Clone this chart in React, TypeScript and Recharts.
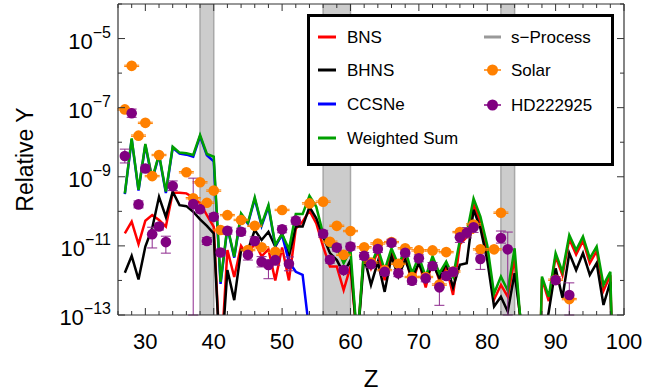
import React from 'react';
import {
  ComposedChart,
  Line,
  Scatter,
  XAxis,
  YAxis,
  ReferenceArea,
  ReferenceLine,
  ErrorBar,
  Legend,
  Label,
} from 'recharts';

// ---------- DATA (log10 of relative abundance Y) ----------
const lineZ = [
  27, 28, 29, 30, 31, 32, 33, 34, 35, 36, 37, 38, 39, 40, 41, 42, 43, 44, 45, 46, 47, 48, 49, 50, 51,
  52, 53, 54, 55, 56, 57, 58, 59, 60, 61, 62, 63, 64, 65, 66, 67, 68, 69, 70, 71, 72, 73, 74, 75, 76,
  77, 78, 79, 80, 81, 82, 83, 84, 85, 86, 87, 88, 89, 90, 91, 92, 93, 94, 95, 96, 97, 98, 99,
];

const bnsLog = [
  -10.64, -10.3, -10.95, -10.27, -10.11, -10.25, -10.44, -9.46, -9.46, -9.48, -9.6, -9.77, -10.11,
  -10.45, -14.5, -11.12, -11.9, -11.0, -11.3, -10.9, -11.3, -11.1, -12.0, -11.05, -12.0, -10.5,
  -10.3, -9.98, -10.35, -11.02, -11.6, -11.6, -12.28, -11.6, -13.8, -11.1, -11.65, -11.15, -11.99,
  -11.15, -11.7, -11.2, -12.13, -11.45, -12.2, -11.4, -12.0, -11.6, -12.42, -10.95, -10.75, -9.8,
  -10.3, -11.15, -12.55, -12.13, -12.47, -11.36, -13.5, -20, -20, -11.95, -12.6, -11.3, -11.85,
  -10.8, -11.25, -10.85, -11.5, -11.15, -12.3, -11.85, -20,
];

const bhnsLog = [
  -11.78, -11.29, -11.97, -11.02, -10.49, -9.58, -10.16, -9.43, -9.82, -9.85, -10.01, -10.23,
  -10.42, -10.64, -14.6, -11.7, -12.57, -11.12, -11.12, -10.54, -10.83, -10.59, -11.02, -10.64,
  -11.31, -10.44, -10.44, -9.87, -10.2, -10.73, -11.21, -11.41, -11.79, -11.41, -13.8, -11.31,
  -12.13, -11.46, -12.33, -11.3, -11.89, -11.4, -11.93, -11.5, -12.0, -11.5, -11.93, -11.5, -12.2,
  -11.55, -11.5, -9.95, -10.49, -11.41, -12.75, -12.47, -12.9, -11.79, -13.3, -20, -20, -14, -12.9,
  -11.65, -12.5, -11.21, -11.7, -11.21, -11.84, -11.5, -12.71, -12.04, -20,
];

const ccsneLog: (number | null)[] = [
  -9.5, -7.92, -9.4, -8.08, -9.08, -8.38, -9.47, -8.16, -8.33, -8.36, -8.42, -7.83, -8.38, -8.55,
  -12.1, -10.47, -11.34, -10.1, -10.36, -9.64, -10.42, -9.86, -11.0, -10.69, -11.46, -11.75, -11.84,
  -13.5, null, null, null, null, null, null, null, null, null, null, null, null, null, null, null,
  null, null, null, null, null, null, null, null, null, null, null, null, null, null, null, null,
  null, null, null, null, null, null, null, null, null, null, null, null, null, null,
];

const weightedLog = [
  -9.48, -7.89, -9.38, -8.05, -9.05, -8.35, -9.43, -8.13, -8.3, -8.32, -8.37, -7.79, -8.34, -8.42,
  -12.04, -10.44, -11.31, -10.06, -10.33, -9.6, -10.38, -9.82, -10.97, -10.66, -11.1, -10.08,
  -10.08, -9.55, -9.87, -10.66, -11.02, -11.02, -11.5, -11.12, -13.8, -11.02, -11.55, -11.07,
  -11.7, -11.07, -11.55, -11.12, -11.79, -11.31, -11.89, -11.3, -11.79, -11.46, -11.89, -10.83,
  -10.64, -9.63, -10.15, -10.98, -12.38, -11.89, -12.29, -11.07, -13.5, -20, -20, -11.89, -12.47,
  -11.21, -11.75, -10.69, -11.12, -10.73, -11.36, -11.02, -12.13, -11.75, -20,
];

const solarZ = [
  27, 28, 29, 30, 31, 32, 36, 37, 38, 39, 40, 41, 42, 44, 45, 46, 47, 49, 50, 54, 56, 57, 58, 59, 60,
  62, 63, 64, 65, 66, 67, 68, 69, 70, 71, 72, 73, 74, 75, 76, 77, 78, 79, 81, 82, 90, 92,
];
const solarLog = [
  -7.05, -5.79, -7.81, -7.44, -8.98, -8.37, -8.87, -9.62, -9.16, -9.75, -9.4, -10.54, -10.11,
  -10.25, -11.12, -10.42, -11.04, -11.17, -9.96, -9.77, -9.72, -10.88, -10.42, -11.26, -10.57,
  -11.04, -11.48, -10.93, -11.7, -10.89, -11.52, -11.07, -11.9, -11.13, -11.9, -11.13, -12.12,
  -11.18, -11.74, -10.6, -10.62, -10.38, -11.1, -11.1, -10.04, -11.98, -12.54,
];
const solarErrDex = 0.02;

const hdZ = [
  27, 28, 29, 30, 31, 32, 33, 34, 37, 38, 39, 40, 41, 42, 44, 45, 46, 47, 48, 49, 50, 51, 52, 56, 57,
  58, 59, 60, 62, 63, 64, 65, 66, 67, 68, 69, 70, 71, 72, 73, 74, 75, 76, 77, 78, 79, 82, 83, 90, 92,
];
const hdLog = [
  -8.4, -7.16, -9.8, -8.76, -10.66, -10.44, -10.89, -9.27, -9.79, -9.94, -10.86, -10.16, -11.19,
  -10.56, -10.59, -11.26, -10.86, -11.46, -11.55, -11.41, -10.52, -11.52, -10.27, -10.65, -11.4,
  -11.05, -11.7, -11.02, -11.29, -11.53, -11.09, -11.75, -10.91, -11.79, -11.2, -12.01, -11.36,
  -11.94, -11.58, -12.2, -11.87, -11.75, -10.75, -10.62, -10.46, -11.38, -10.77, -11.1, -11.99,
  -12.42,
];
const hdErrLo = [
  0.2, 0.12, 0.1, 0.1, 0.4, 0.1, 0.32, 0.13, 3.21, 0.1, 0.1, 0.1, 0.1, 0.1, 0.1, 0.15, 0.12, 0.15,
  0.4, 0.15, 0.1, 0.2, 0.1, 0.1, 0.1, 0.1, 0.1, 0.1, 0.1, 0.1, 0.1, 0.1, 0.1, 0.1, 0.1, 0.1, 0.1,
  0.1, 0.1, 0.52, 0.1, 0.12, 0.15, 0.15, 0.15, 0.3, 0.15, 1.9, 0.1, 0.58,
];
const hdErrHi = [
  0.2, 0.12, 0.1, 0.1, 0.2, 0.1, 0.17, 0.15, 0.75, 0.1, 0.1, 0.1, 0.1, 0.1, 0.1, 0.15, 0.12, 0.15,
  0.15, 0.15, 0.1, 0.2, 0.1, 0.1, 0.1, 0.1, 0.1, 0.1, 0.1, 0.1, 0.1, 0.1, 0.1, 0.1, 0.1, 0.1, 0.1,
  0.1, 0.1, 0.1, 0.1, 0.12, 0.15, 0.15, 0.15, 0.15, 0.2, 0.5, 0.1, 0.35,
];

const sProcessBands = [
  [38, 40],
  [56, 60],
  [82, 84],
];

const xTicks = [
  26, 28, 30, 32, 34, 36, 38, 40, 42, 44, 46, 48, 50, 52, 54, 56, 58, 60, 62, 64, 66, 68, 70, 72, 74,
  76, 78, 80, 82, 84, 86, 88, 90, 92, 94, 96, 98, 100,
];
const yTickExponents = [-13, -12, -11, -10, -9, -8, -7, -6, -5, -4];

// ---------- derived tables ----------
const pow = (e: number) => Math.pow(10, e);
const lineRows = lineZ.map((z, i) => ({
  z,
  bns: pow(bnsLog[i]),
  bhns: pow(bhnsLog[i]),
  ccsne: ccsneLog[i] == null ? null : pow(ccsneLog[i] as number),
  weighted: pow(weightedLog[i]),
}));
const solarRows = solarZ.map((z, i) => {
  const v = pow(solarLog[i]);
  return { z, v, err: [v - v * pow(-solarErrDex), v * pow(solarErrDex) - v] };
});
const hdRows = hdZ.map((z, i) => {
  const v = pow(hdLog[i]);
  return { z, v, err: [v - v * pow(-hdErrLo[i]), v * pow(hdErrHi[i]) - v] };
});
const yTicks = yTickExponents.map(pow);

// ---------- layout / style ----------
const W = 668;
const H = 392;
const MARGIN = { top: 4, right: 44, bottom: 0, left: 0 };
const Y_AXIS_W = 118;
const X_AXIS_H = 77;
const PLOT_W = W - MARGIN.left - MARGIN.right - Y_AXIS_W;
const PLOT_H = H - MARGIN.top - MARGIN.bottom - X_AXIS_H;
const FONT = '"Liberation Sans", Arial, Helvetica, sans-serif';
const FRAME = '#333333';
const C_RED = '#ff0000';
const C_BLACK = '#000000';
const C_BLUE = '#0000ff';
const C_GREEN = '#00a000';
const C_ORANGE = '#ff8000';
const C_PURPLE = '#800080';
const C_BAND = '#cccccc';

const XTick = (props: any) => {
  const { x, y, payload } = props;
  const v = payload.value;
  const major = v % 10 === 0;
  const len = major ? 7 : 4;
  return (
    <g>
      <line x1={x} x2={x} y1={y} y2={y - len} stroke={FRAME} strokeWidth={1} />
      <line x1={x} x2={x} y1={y - PLOT_H} y2={y - PLOT_H + len} stroke={FRAME} strokeWidth={1} />
      {major && (
        <text x={x} y={y + 34} textAnchor="middle" fontSize={22} fontFamily={FONT} fill="#000">
          {v}
        </text>
      )}
    </g>
  );
};

const YTick = (props: any) => {
  const { x, y, payload } = props;
  const e = Math.round(Math.log10(payload.value));
  const labeled = e % 2 !== 0;
  const len = labeled ? 7 : 4;
  return (
    <g>
      <line x1={x} x2={x + len} y1={y} y2={y} stroke={FRAME} strokeWidth={1} />
      <line x1={x + PLOT_W} x2={x + PLOT_W - len} y1={y} y2={y} stroke={FRAME} strokeWidth={1} />
      {labeled && (
        <text x={x - 7} y={y + 10} textAnchor="end" fontFamily={FONT} fill="#000">
          <tspan fontSize={22}>10</tspan>
          <tspan fontSize={16} dy={-11}>
            {'\u2212' + Math.abs(e)}
          </tspan>
        </text>
      )}
    </g>
  );
};

const Dot = (color: string) => (p: any) =>
  p.cx == null || p.cy == null ? <g /> : <circle cx={p.cx} cy={p.cy} r={5.3} fill={color} />;

const LegendBox = () => {
  const rows1 = [
    { name: 'BNS', color: C_RED, y: 23 },
    { name: 'BHNS', color: C_BLACK, y: 56 },
    { name: 'CCSNe', color: C_BLUE, y: 90 },
    { name: 'Weighted Sum', color: C_GREEN, y: 124 },
  ];
  return (
    <svg width={307} height={152} style={{ display: 'block' }}>
      <rect x={1.5} y={1.5} width={304} height={149} fill="#fff" stroke="#000" strokeWidth={3} />
      {rows1.map((r) => (
        <g key={r.name}>
          <line x1={11} x2={29} y1={r.y} y2={r.y} stroke={r.color} strokeWidth={3} />
          <text x={40} y={r.y + 6} fontSize={17} fontFamily={FONT} fill="#000">
            {r.name}
          </text>
        </g>
      ))}
      <line x1={177} x2={194} y1={23} y2={23} stroke="#999999" strokeWidth={3} />
      <text x={204} y={29} fontSize={17} fontFamily={FONT} fill="#000">
        s{'\u2212'}Process
      </text>
      <line x1={177} x2={194} y1={56} y2={56} stroke={C_ORANGE} strokeWidth={1.5} />
      <circle cx={185.5} cy={56} r={5.5} fill={C_ORANGE} />
      <text x={204} y={62} fontSize={17} fontFamily={FONT} fill="#000">
        Solar
      </text>
      <line x1={177} x2={194} y1={91} y2={91} stroke={C_PURPLE} strokeWidth={1.5} />
      <circle cx={185.5} cy={91} r={5.5} fill={C_PURPLE} />
      <text x={204} y={97} fontSize={17} fontFamily={FONT} fill="#000">
        HD222925
      </text>
    </svg>
  );
};

export default function App() {
  return (
    <div style={{ position: 'absolute', left: 0, top: 0, width: W, height: H, background: '#fff' }}>
      <ComposedChart width={W} height={H} data={lineRows} margin={MARGIN}>
        {sProcessBands.map(([a, b]) => (
          <ReferenceArea
            key={a}
            x1={a}
            x2={b}
            fill={C_BAND}
            fillOpacity={1}
            stroke="#a8a8a8"
            strokeWidth={1.5}
            ifOverflow="hidden"
          />
        ))}
        <XAxis
          dataKey="z"
          type="number"
          domain={[26, 100]}
          ticks={xTicks}
          interval={0}
          allowDataOverflow
          height={X_AXIS_H}
          tickSize={0}
          tickMargin={0}
          tickLine={false}
          tick={<XTick />}
          axisLine={{ stroke: FRAME, strokeWidth: 1.2 }}
        >
          <Label
            content={(p: any) => {
              const vb = p.viewBox || { x: 118, y: 315, width: 506 };
              return (
                <text
                  x={vb.x + vb.width / 2}
                  y={vb.y + 72}
                  textAnchor="middle"
                  fontSize={24}
                  fontFamily={FONT}
                  fill="#000"
                >
                  Z
                </text>
              );
            }}
          />
        </XAxis>
        <YAxis
          type="number"
          scale="log"
          domain={[1e-13, 1e-4]}
          ticks={yTicks}
          interval={0}
          allowDataOverflow
          width={Y_AXIS_W}
          tickSize={0}
          tickMargin={0}
          tickLine={false}
          tick={<YTick />}
          axisLine={{ stroke: FRAME, strokeWidth: 1.2 }}
        >
          <Label
            content={(p: any) => {
              const vb = p.viewBox || { x: 0, y: 4, height: 311 };
              const cx = 33;
              const cy = vb.y + vb.height / 2;
              return (
                <text
                  x={cx}
                  y={cy}
                  transform={`rotate(-90 ${cx} ${cy})`}
                  textAnchor="middle"
                  fontSize={23}
                  fontFamily={FONT}
                  fill="#000"
                >
                  Relative Y
                </text>
              );
            }}
          />
        </YAxis>
        <ReferenceLine y={1e-4} stroke={FRAME} strokeWidth={1.2} />
        <ReferenceLine x={100} stroke={FRAME} strokeWidth={1.2} />
        <Line
          dataKey="bns"
          stroke={C_RED}
          strokeWidth={2.5}
          dot={false}
          isAnimationActive={false}
          strokeLinejoin="miter"
        />
        <Line
          dataKey="bhns"
          stroke={C_BLACK}
          strokeWidth={2.5}
          dot={false}
          isAnimationActive={false}
          strokeLinejoin="miter"
        />
        <Line
          dataKey="ccsne"
          stroke={C_BLUE}
          strokeWidth={2.5}
          dot={false}
          isAnimationActive={false}
          connectNulls={false}
          strokeLinejoin="miter"
        />
        <Line
          dataKey="weighted"
          stroke={C_GREEN}
          strokeWidth={2.5}
          dot={false}
          isAnimationActive={false}
          strokeLinejoin="miter"
        />
        <Scatter data={solarRows} dataKey="v" shape={Dot(C_ORANGE)} isAnimationActive={false}>
          <ErrorBar dataKey="err" direction="y" width={7.5} stroke={C_ORANGE} strokeWidth={1} />
        </Scatter>
        <Scatter data={hdRows} dataKey="v" shape={Dot(C_PURPLE)} isAnimationActive={false}>
          <ErrorBar dataKey="err" direction="y" width={5} stroke="#8e2a8e" strokeWidth={1} />
        </Scatter>
        <Legend
          content={<LegendBox />}
          layout="vertical"
          align="center"
          verticalAlign="middle"
          wrapperStyle={{ position: 'absolute', left: 307, top: 14, width: 307, height: 152 }}
        />
      </ComposedChart>
    </div>
  );
}
